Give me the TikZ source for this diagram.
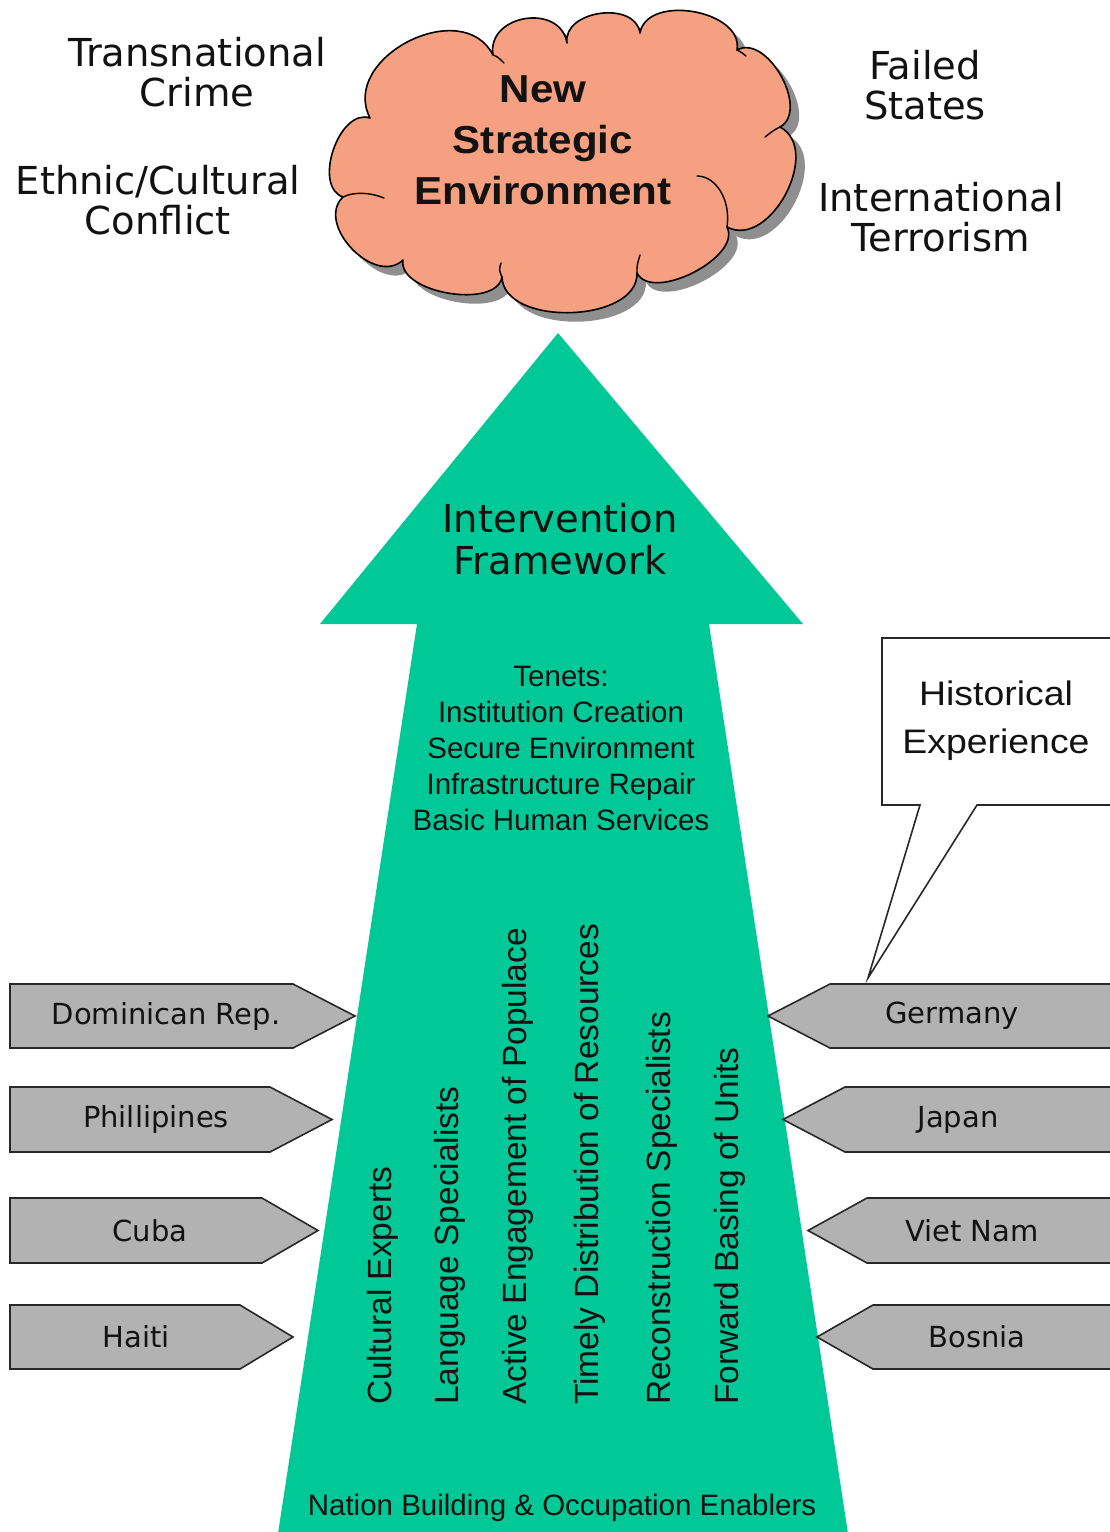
\documentclass[tikz,border=0pt]{standalone}
\usepackage{fontspec}
\usetikzlibrary{shadows}
\setmainfont{Liberation Sans}
\newfontfamily\verdanalike{DejaVu Sans}
\newfontfamily\arialike{Liberation Sans}
\newfontfamily\cloudface{Liberation Sans}[FakeStretch=1.08]
\newfontfamily\calloutface{Liberation Sans}[FakeStretch=1.1]

\definecolor{framegreen}{RGB}{0,200,150}
\definecolor{cloudsalmon}{RGB}{245,160,128}
\definecolor{tabgray}{RGB}{178,178,178}
\definecolor{ink}{RGB}{18,18,18}
\definecolor{edge}{RGB}{40,40,40}

\tikzset{
  topic/.style={font=\verdanalike\fontsize{38.5}{40}\selectfont, align=center, text=ink, inner sep=0pt},
  headline/.style={font=\cloudface\bfseries\fontsize{39}{51}\selectfont, align=center, text=ink, inner sep=0pt},
  frametitle/.style={font=\verdanalike\fontsize{38.5}{42}\selectfont, align=center, text=ink, inner sep=0pt},
  tenets/.style={font=\arialike\fontsize{29.5}{36}\selectfont, align=center, text=ink, inner sep=0pt},
  enabler/.style={font=\arialike\fontsize{33.5}{36}\selectfont, rotate=90, anchor=west, text=ink, inner sep=0pt},
  country/.style={font=\verdanalike\fontsize{29}{32}\selectfont, text=ink, inner sep=0pt},
  tab/.style={fill=tabgray, draw=edge, line width=1.6pt, line join=miter},
  callouttext/.style={font=\calloutface\fontsize{34}{48}\selectfont, align=center, text=ink, inner sep=0pt},
}

\begin{document}
\begin{tikzpicture}[x=1pt, y=1pt]
  % canvas
  \fill[white] (0,0) rectangle (1110,-1532);
  \useasboundingbox (0,0) rectangle (1110,-1532);
  \clip (0,0) rectangle (1110,-1532);

  % the upward framework arrow
  \fill[framegreen] (558,-333) -- (803,-624) -- (709,-624) -- (849,-1540)
        -- (277,-1540) -- (417,-624) -- (320,-624) -- cycle;

  % cloud with its shadow
  \filldraw[fill=cloudsalmon, draw=black, line width=1.6pt, line join=round,
            drop shadow={shadow xshift=9pt, shadow yshift=-9pt, fill=black!55, opacity=0.8}]
    (370,-118) to[bend right=90, looseness=1.0]  (343,-197)
               to[bend right=90, looseness=1.15] (403,-260)
               to[bend right=90, looseness=0.85] (502,-277)
               to[bend right=90, looseness=0.95] (637,-273)
               to[bend right=90, looseness=0.85] (727,-227)
               to[bend right=90, looseness=1.1]  (780,-127)
               to[bend right=90, looseness=1.0]  (737,-50)
               to[bend right=90, looseness=1.05] (640,-33)
               to[bend right=90, looseness=1.15] (567,-43)
               to[bend right=90, looseness=1.4]  (493,-55)
               to[bend right=90, looseness=1.25] (370,-118) -- cycle;
  % inner puff lines of the cloud
  \draw[black, line width=1.4pt, line cap=round]
    (697,-176) .. controls (716,-176) and (731,-200) .. (727,-227)
    (343,-197) .. controls (355,-191) and (372,-193) .. (384,-198)
    (780,-127) .. controls (774,-130) .. (765,-137)
    (502,-277) .. controls (499,-270) .. (501,-263)
    (637,-273) .. controls (637,-265) .. (640,-255)
    (493,-55) .. controls (498,-57) .. (504,-63)
    (737,-50) .. controls (741,-52) .. (746,-56);

  \node[headline] (nse) at (543,-140) {New\\Strategic\\Environment};

  % threats around the cloud
  \node[topic] (crime)   at (197,-72)  {Transnational\\Crime};
  \node[topic] (ethnic)  at (158,-200) {Ethnic/Cultural\\Conflict};
  \node[topic] (failed)  at (925,-85)  {Failed\\States};
  \node[topic] (terror)  at (941,-217) {International\\Terrorism};

  % arrow texts
  \node[frametitle] (frame) at (560,-539) {Intervention\\Framework};
  \node[tenets] (tenets) at (561,-748)
    {Tenets:\\Institution Creation\\Secure Environment\\Infrastructure Repair\\Basic Human Services};

  \node[enabler] (e1) at (383,-1405) {Cultural Experts};
  \node[enabler] (e2) at (450,-1405) {Language Specialists};
  \node[enabler] (e3) at (518,-1405) {Active Engagement of Populace};
  \node[enabler] (e4) at (590,-1405) {Timely Distribution of Resources};
  \node[enabler] (e5) at (662,-1405) {Reconstruction Specialists};
  \node[enabler] (e6) at (730,-1405) {Forward Basing of Units};

  \node[tenets] (nbo) at (562,-1508) {Nation Building \& Occupation Enablers};

  % interventions on the left
  \draw[tab] (10,-984) -- (293,-984) -- (355,-1016) -- (293,-1048) -- (10,-1048) -- cycle;
  \draw[tab] (10,-1087) -- (270,-1087) -- (332,-1119.5) -- (270,-1152) -- (10,-1152) -- cycle;
  \draw[tab] (10,-1198) -- (262,-1198) -- (318,-1230.5) -- (262,-1263) -- (10,-1263) -- cycle;
  \draw[tab] (10,-1305) -- (240,-1305) -- (293,-1337) -- (240,-1369) -- (10,-1369) -- cycle;
  \node[country] (dom)  at (166,-1016)   {Dominican Rep.};
  \node[country] (phil) at (156,-1119.5) {Phillipines};
  \node[country] (cuba) at (150,-1230.5) {Cuba};
  \node[country] (haiti) at (136,-1337)  {Haiti};

  % interventions on the right
  \draw[tab] (1125,-984) -- (830,-984) -- (768,-1016) -- (830,-1048) -- (1125,-1048);
  \draw[tab] (1125,-1087) -- (845,-1087) -- (783,-1119.5) -- (845,-1152) -- (1125,-1152);
  \draw[tab] (1125,-1198) -- (867,-1198) -- (808,-1230.5) -- (867,-1263) -- (1125,-1263);
  \draw[tab] (1125,-1305) -- (873,-1305) -- (817,-1337) -- (873,-1369) -- (1125,-1369);
  \node[country] (ger)   at (952,-1016)   {Germany};
  \node[country] (japan) at (958,-1119.5) {Japan};
  \node[country] (viet)  at (972,-1230.5) {Viet Nam};
  \node[country] (bos)   at (977,-1337)   {Bosnia};

  % callout
  \filldraw[fill=white, draw=edge, line width=1.6pt, line join=miter]
    (1125,-638) -- (882,-638) -- (882,-805) -- (920,-805) -- (868,-978)
    -- (977,-805) -- (1125,-805);
  \node[callouttext] (hist) at (996,-721) {Historical\\Experience};
\end{tikzpicture}
\end{document}
